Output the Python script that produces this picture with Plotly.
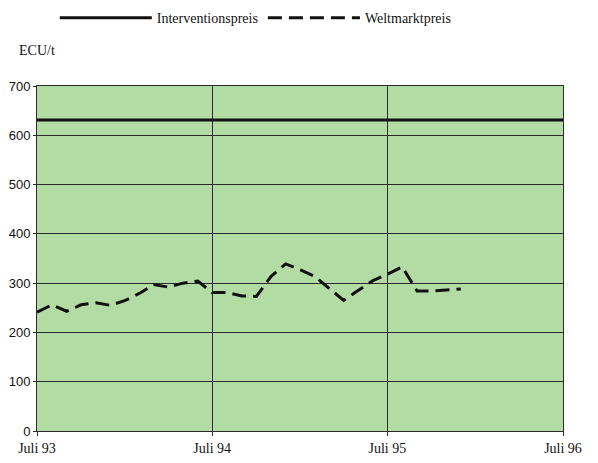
import pandas as pd
import plotly.graph_objects as go

# Monatswerte ab Juli 1993
months = pd.date_range("1993-07-01", periods=30, freq="MS")
weltmarkt = [241, 256, 243, 256, 260, 255, 265, 280, 297, 292,
             300, 304, 281, 281, 274, 273, 314, 339, 327, 313,
             290, 265, 285, 305, 318, 333, 284, 284, 286, 288]

interv_dates = ["1993-07-01", "1996-07-01"]
interv_values = [631, 631]

tick_vals = ["1993-07-01", "1994-07-01", "1995-07-01", "1996-07-01"]
tick_text = ["Juli 93", "Juli 94", "Juli 95", "Juli 96"]

serif = "Liberation Serif, Times New Roman, serif"
sans = "Liberation Sans, Arial, sans-serif"

fig = go.Figure()
fig.add_trace(go.Scatter(
    x=interv_dates, y=interv_values, mode="lines", name="Interventionspreis",
    line=dict(color="#111111", width=3),
))
fig.add_trace(go.Scatter(
    x=months, y=weltmarkt, mode="lines", name="Weltmarktpreis",
    line=dict(color="#111111", width=3, dash="14px,7px"),
))

# page body adds an 8px offset, so margins are shifted accordingly
fig.update_layout(
    width=598, height=463,
    margin=dict(l=29, r=43, t=78, b=40, autoexpand=False),
    paper_bgcolor="white",
    plot_bgcolor="#b3dca5",
    showlegend=True,
    legend=dict(
        orientation="h", x=0.416, xanchor="center", y=1.197, yanchor="middle",
        font=dict(family=serif, size=14, color="#111111"),
        itemwidth=92, bgcolor="rgba(0,0,0,0)",
    ),
    annotations=[dict(
        text="ECU/t", xref="paper", yref="paper", x=-0.038, y=1.104,
        xanchor="left", yanchor="middle", showarrow=False,
        font=dict(family=serif, size=14, color="#111111"),
    )],
)

fig.update_xaxes(
    type="date", range=["1993-07-01", "1996-07-01"],
    tickvals=tick_vals, ticktext=tick_text,
    showgrid=True, gridcolor="#2a2a2a", gridwidth=1,
    showline=True, linecolor="#2a2a2a", linewidth=1, mirror=True,
    ticks="outside", ticklen=4, tickcolor="#2a2a2a",
    tickfont=dict(family=serif, size=14, color="#111111"),
    zeroline=False,
)
fig.update_yaxes(
    range=[0, 700], dtick=100,
    showgrid=True, gridcolor="#2a2a2a", gridwidth=1,
    showline=True, linecolor="#2a2a2a", linewidth=1, mirror=True,
    ticks="outside", ticklen=3, tickcolor="#2a2a2a",
    tickfont=dict(family=sans, size=13, color="#111111"),
    zeroline=False,
)

fig.write_html("out.html")
